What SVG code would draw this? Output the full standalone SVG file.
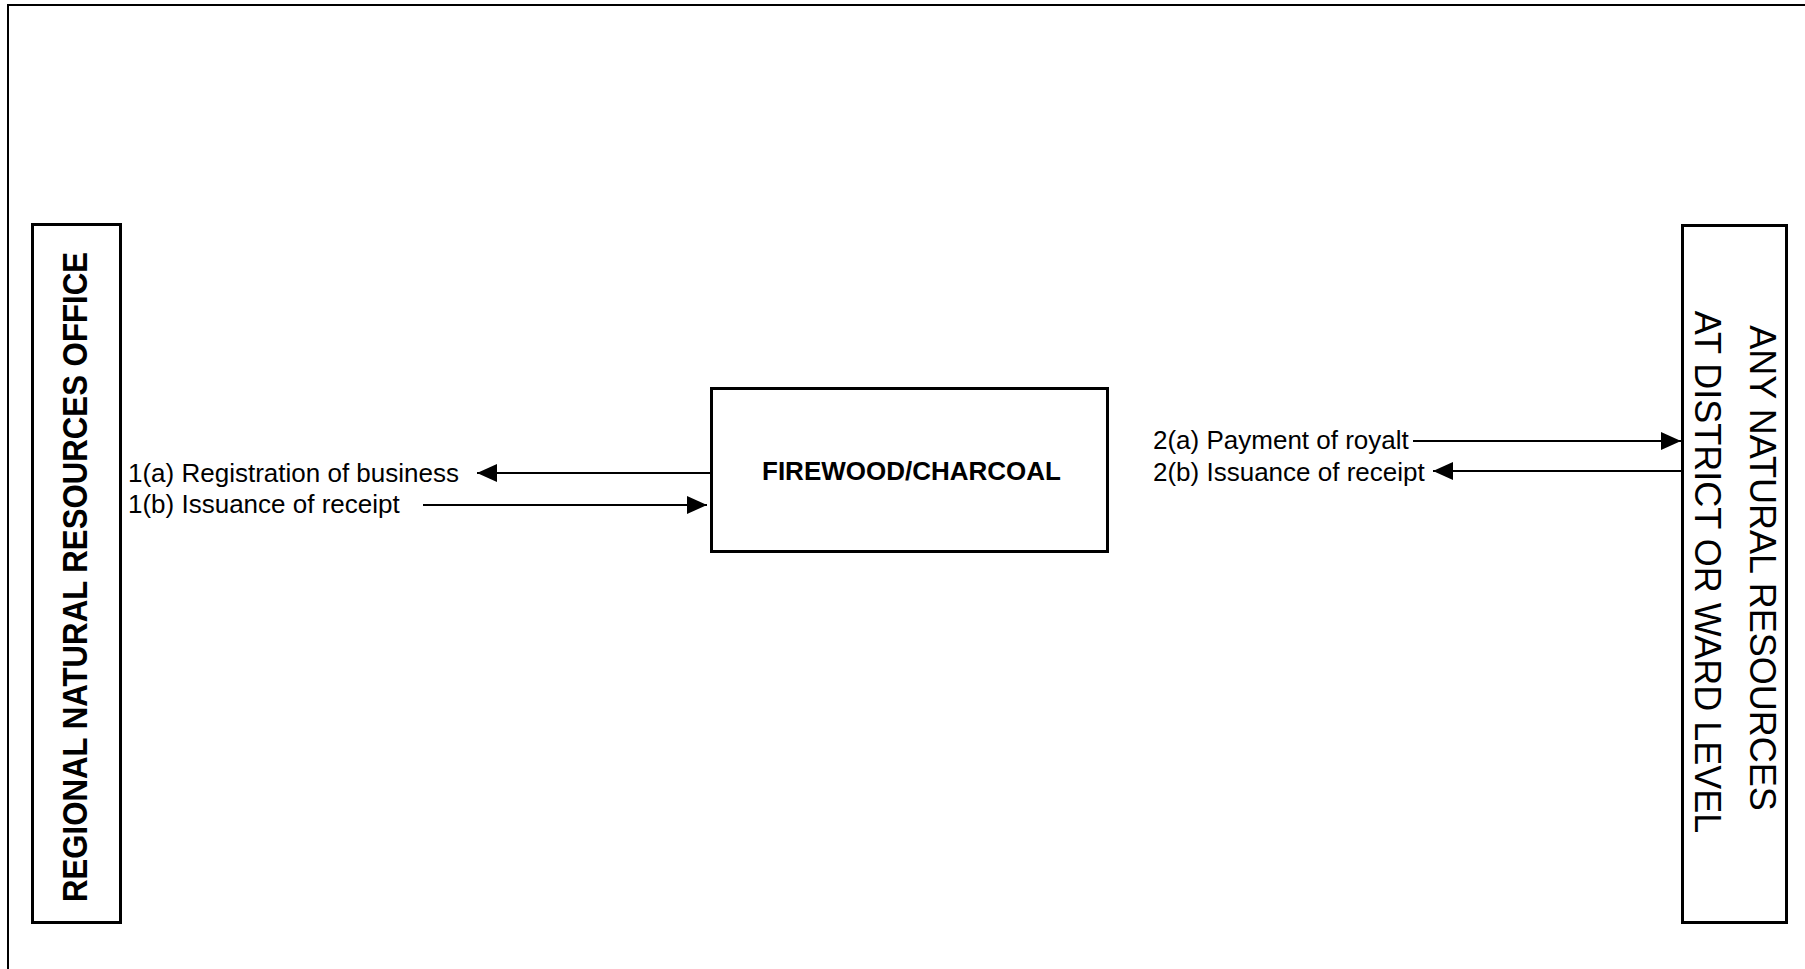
<svg xmlns="http://www.w3.org/2000/svg" width="1805" height="969" viewBox="0 0 1805 969">
<style>
.box{fill:#fff;stroke:#000;stroke-width:3}
.frame{fill:none;stroke:#000;stroke-width:2}
.conn{fill:none;stroke:#000;stroke-width:1.8}
.lbl{font-family:"Liberation Sans",Arial,sans-serif;font-size:26px;fill:#000}
.bold{font-family:"Liberation Sans",Arial,sans-serif;font-weight:bold;fill:#000}
.reg{font-family:"Liberation Sans",Arial,sans-serif;fill:#000}
</style>
<defs>
<marker id="ah" markerUnits="userSpaceOnUse" markerWidth="20" markerHeight="18" refX="20" refY="9" orient="auto">
<path d="M0,0 L20,9 L0,18 z" fill="#000"/>
</marker>
</defs>
<rect width="1805" height="969" fill="#fff"/>
<g id="frame">
<path class="frame" d="M8,969 V5 H1805"/>
</g>
<g id="regional-office">
<rect class="box" x="32.5" y="224.5" width="88" height="698"/>
<text class="bold" font-size="35.7" text-anchor="middle" textLength="650" lengthAdjust="spacingAndGlyphs" transform="translate(87,577) rotate(-90)">REGIONAL NATURAL RESOURCES OFFICE</text>
</g>
<g id="firewood-charcoal">
<rect class="box" x="711.5" y="388.5" width="396" height="163"/>
<text class="bold" font-size="26" x="911.5" y="480" text-anchor="middle">FIREWOOD/CHARCOAL</text>
</g>
<g id="district-office">
<rect class="box" x="1682.5" y="225.5" width="104" height="697"/>
<text class="reg" font-size="36" text-anchor="middle" transform="translate(1750,568) rotate(90)">ANY NATURAL RESOURCES</text>
<text class="reg" font-size="36" text-anchor="middle" transform="translate(1695,572) rotate(90)">AT DISTRICT OR WARD LEVEL</text>
</g>
<g id="connectors">
<line class="conn" x1="710" y1="473" x2="477" y2="473" marker-end="url(#ah)"/>
<line class="conn" x1="423" y1="505" x2="707" y2="505" marker-end="url(#ah)"/>
<line class="conn" x1="1413" y1="441" x2="1681" y2="441" marker-end="url(#ah)"/>
<line class="conn" x1="1683" y1="471" x2="1433" y2="471" marker-end="url(#ah)"/>
</g>
<g id="labels">
<text class="lbl" x="128" y="482">1(a) Registration of business</text>
<text class="lbl" x="128" y="513">1(b) Issuance of receipt</text>
<text class="lbl" x="1153" y="449">2(a) Payment of royalt</text>
<text class="lbl" x="1153" y="481">2(b) Issuance of receipt</text>
</g>
</svg>
